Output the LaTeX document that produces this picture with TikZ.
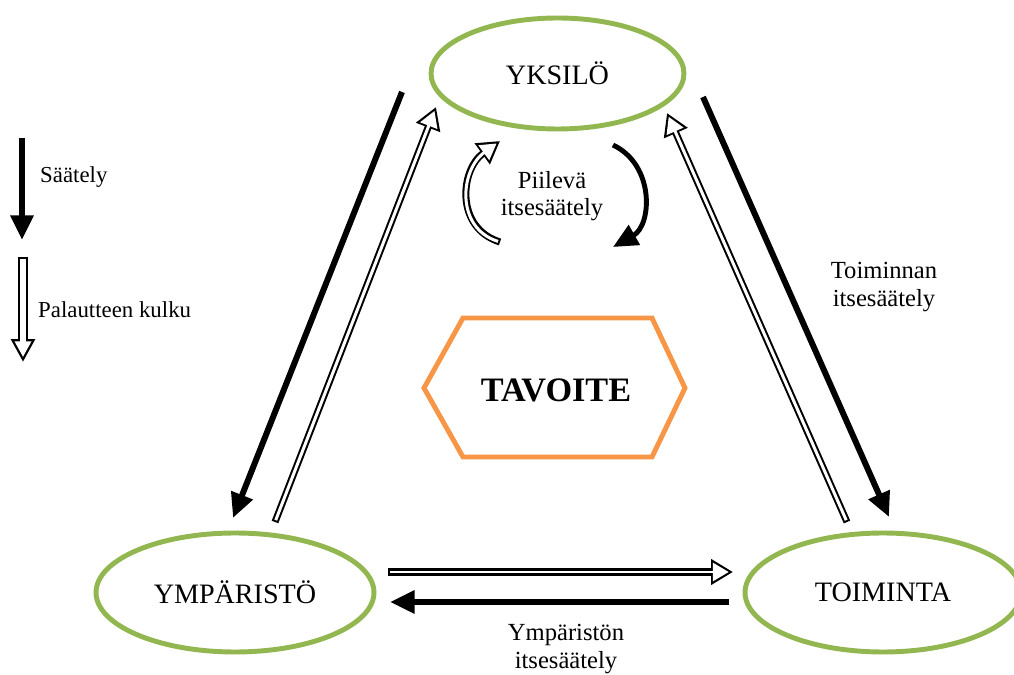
\documentclass[tikz,border=0pt]{standalone}
\usepackage{fontspec}
\setmainfont{Liberation Serif}
\usetikzlibrary{shapes.geometric,arrows.meta}
\definecolor{leafgreen}{RGB}{146,182,80}
\definecolor{goalorange}{RGB}{247,150,70}
\tikzset{
  state/.style={ellipse, draw=leafgreen, line width=2.8pt, font=\fontsize{16}{19}\selectfont},
  control/.style={line width=3.4pt, -{Triangle[length=14pt,width=12.5pt]}},
  feedback/.style={line width=4pt, -{Triangle[length=12.5pt,width=14pt]},
    postaction={draw=white, line width=1.7pt, shorten >=2.4pt, shorten <=1.15pt,
      -{Triangle[length=9pt,width=10.1pt]}}},
  feedbackwide/.style={line width=5.5pt, -{Triangle[length=13pt,width=13pt]},
    postaction={draw=white, line width=3pt, shorten >=2.8pt, shorten <=1.25pt,
      -{Triangle[length=9pt,width=9pt]}}},
  note/.style={align=center, font=\fontsize{14}{15.5}\selectfont},
}
\begin{document}
\begin{tikzpicture}[x=0.02cm, y=-0.02cm]
    \useasboundingbox (0,0) rectangle (1014,675);
    % tilat
    \node[state, minimum width=5.06cm, minimum height=2.22cm] (yksilo) at (557.5,73.5) {YKSILÖ};
    \node[state, minimum width=5.56cm, minimum height=2.38cm] (ymparisto) at (235,592.5) {YMPÄRISTÖ};
    \node[state, minimum width=5.52cm, minimum height=2.38cm] (toiminta) at (883,592.5) {TOIMINTA};
    % tavoite
    \draw[goalorange, line width=2.8pt] (424,388) -- (463,318) -- (652,318) -- (685,388) -- (652,457) -- (463,457) -- cycle;
    \node[font=\fontsize{19.5}{22}\selectfont\bfseries] (tavoite) at (556,390) {TAVOITE};
    % paatepisteet
    \coordinate (yk1) at (402,92);   \coordinate (ym1) at (233,518);
    \coordinate (ym2) at (275,522);  \coordinate (yk2) at (436,107);
    \coordinate (yk3) at (703,97);   \coordinate (to1) at (889,517);
    \coordinate (to2) at (847,522);  \coordinate (yk4) at (667,113);
    \coordinate (ym3) at (388,572);  \coordinate (to3) at (733,572);
    \coordinate (to4) at (729,602);  \coordinate (ym4) at (390,602);
    % nuolet
    \draw[control] (yk1) -- (ym1);
    \draw[feedback] (ym2) -- (yk2);
    \draw[control] (yk3) -- (to1);
    \draw[feedback] (to2) -- (yk4);
    \draw[feedback] (ym3) -- (to3);
    \draw[control] (to4) -- (ym4);
    % piilevä itsesäätely
    \coordinate (p1) at (500,242); \coordinate (p2) at (500,141);
    \coordinate (p3) at (613,145); \coordinate (p4) at (613,247);
    \draw[feedback] (p1) .. controls (455,228) and (460,170) .. (p2);
    \draw[control, line width=2.8pt] (p3) .. controls (655,165) and (652,225) .. (p4);
    \node[note] (piileva) at (552,196) {Piilevä\\itsesäätely};
    \node[note] (toimself) at (884,287) {Toiminnan\\itsesäätely};
    \node[note] (ympself) at (566,649) {Ympäristön\\itsesäätely};
    % selite
    \coordinate (s1) at (22,138); \coordinate (s2) at (22,240);
    \coordinate (s3) at (23,257); \coordinate (s4) at (23,362);
    \draw[control, line width=3.8pt] (s1) -- (s2);
    \draw[feedbackwide] (s3) -- (s4);
    \node[anchor=west, font=\fontsize{13}{15}\selectfont] (saately) at (34,177) {Säätely};
    \node[anchor=west, font=\fontsize{13}{15}\selectfont] (palaute) at (32,310) {Palautteen kulku};
\end{tikzpicture}
\end{document}
